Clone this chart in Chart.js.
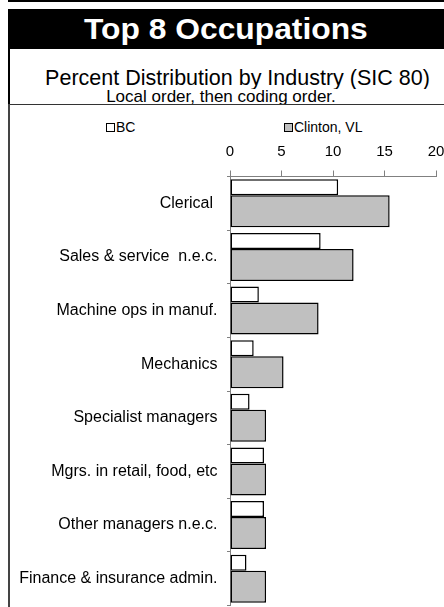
<!DOCTYPE html>
<html>
<head>
<meta charset="utf-8">
<script src="https://cdn.jsdelivr.net/npm/chart.js@4.4.0/dist/chart.umd.min.js"></script>
<style>
html, body { margin: 0; background: #fff; width: 444px; height: 607px; overflow: hidden; }
#page { position: relative; width: 444px; height: 607px; overflow: hidden; background: #fff; font-family: "Liberation Sans", Arial, sans-serif; color: #000; }
#topLine { position: absolute; left: 8px; top: 0; width: 436px; height: 1.5px; background: #000; }
#title { position: absolute; left: 8px; top: 9px; width: 436px; height: 40px; background: #000; overflow: hidden; }
#titleText { position: absolute; left: 0; top: 0; width: 436px; height: 40px; line-height: 40px; color: #fff; text-align: center; font-weight: bold; font-size: 30px; white-space: nowrap; transform: scaleX(1.06); transform-origin: 220px 0; }
#leftTop { position: absolute; left: 8px; top: 49px; width: 2px; height: 55px; background: #000; }
#sepLine { position: absolute; left: 8px; top: 103.5px; width: 436px; height: 1.5px; background: #333; }
#leftBottom { position: absolute; left: 8px; top: 104px; width: 1.5px; height: 503px; background: #444; }
.sub { position: absolute; text-align: center; white-space: nowrap; overflow: hidden; }
#sub1 { left: 12px; top: 67.7px; width: 451px; font-size: 21.5px; line-height: 21px; }
#sub2 { left: 12px; top: 87.5px; width: 418px; font-size: 17px; line-height: 17px; }
.legItem { position: absolute; top: 120px; height: 15px; line-height: 15px; font-size: 14px; white-space: nowrap; }
.legBox { display: inline-block; width: 7px; height: 7px; border: 1px solid #000; margin-right: 1px; vertical-align: 0px; }
#chartBox { position: absolute; left: 10px; top: 105px; width: 434px; height: 502px; }
</style>
</head>
<body>
<div id="page">
  <div id="topLine"></div>
  <div id="title"><div id="titleText">Top 8 Occupations</div></div>
  <div id="leftTop"></div>
  <div class="sub" id="sub1">Percent Distribution by Industry (SIC 80)</div>
  <div class="sub" id="sub2">Local order, then coding order.</div>
  <div id="sepLine"></div>
  <div id="leftBottom"></div>
  <div id="legend"></div>
  <div id="chartBox"><canvas id="chart"></canvas></div>
</div>
<script>
const categories = ['Clerical ', 'Sales & service  n.e.c.', 'Machine ops in manuf.', 'Mechanics',
  'Specialist managers', 'Mgrs. in retail, food, etc', 'Other managers n.e.c.', 'Finance & insurance admin.'];
const bcValues = [10.5, 8.8, 2.8, 2.3, 1.9, 3.3, 3.3, 1.6];
const clintonValues = [15.5, 12.0, 8.6, 5.2, 3.5, 3.5, 3.5, 3.5];
const seriesNames = ['BC', 'Clinton, VL'];
const seriesColors = ['#ffffff', '#c0c0c0'];
const xTicks = [0, 5, 10, 15, 20];

// legend is html so the two items can sit far apart like the original
const legendLeft = [106, 284];
const legend = document.getElementById('legend');
seriesNames.forEach((name, i) => {
  const item = document.createElement('div');
  item.className = 'legItem';
  item.style.left = legendLeft[i] + 'px';
  item.innerHTML = `<span class="legBox" style="background:${seriesColors[i]}"></span>${name}`;
  legend.appendChild(item);
});

const gray = '#808080';
const font = '"Liberation Sans", Arial, sans-serif';

new Chart(document.getElementById('chart'), {
  type: 'bar',
  data: {
    labels: categories,
    datasets: [{
      label: seriesNames[0],
      data: bcValues,
      backgroundColor: seriesColors[0],
      borderColor: '#000',
      borderWidth: 1.5,
      borderSkipped: false,
      categoryPercentage: 1.195,
      barPercentage: 0.5
    }, {
      label: seriesNames[1],
      data: clintonValues,
      backgroundColor: seriesColors[1],
      borderColor: '#000',
      borderWidth: 1.5,
      borderSkipped: false,
      categoryPercentage: 0.5975,
      barPercentage: 2
    }]
  },
  options: {
    indexAxis: 'y',
    responsive: true,
    maintainAspectRatio: false,
    animation: false,
    layout: { padding: { top: 0, right: 8, bottom: 1.5, left: 0 } },
    plugins: {
      legend: { display: false },
      tooltip: { enabled: false }
    },
    scales: {
      x: {
        position: 'top',
        min: xTicks[0],
        max: xTicks[xTicks.length - 1],
        ticks: {
          stepSize: xTicks[1] - xTicks[0],
          color: '#000',
          font: { family: font, size: 15 },
          padding: 10
        },
        grid: { drawOnChartArea: false, tickLength: 6, color: gray },
        border: { color: gray },
        afterFit(scale) {
          scale.height = 71.5;
          scale.paddingLeft = 0;
          scale.paddingRight = 0;
        }
      },
      y: {
        ticks: {
          color: '#000',
          autoSkip: false,
          font: { family: font, size: 16 },
          padding: 9.5
        },
        grid: { drawOnChartArea: false, tickLength: 3, color: gray, offset: true },
        border: { color: gray },
        afterFit(scale) {
          scale.width = 220;
          scale.paddingTop = 0;
          scale.paddingBottom = 0;
        }
      }
    }
  }
});
</script>
</body>
</html>
